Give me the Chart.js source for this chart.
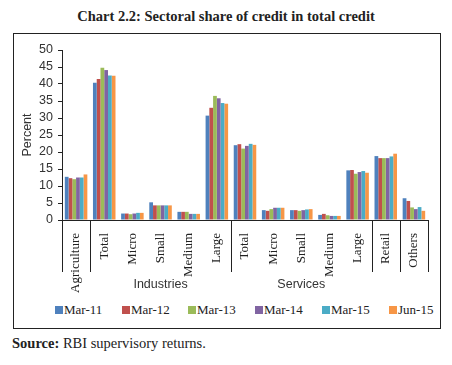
<!DOCTYPE html>
<html>
<head>
<meta charset="utf-8">
<script src="https://cdn.jsdelivr.net/npm/chart.js@4"></script>
<style>
  body { margin: 0; background: #fff; width: 452px; height: 365px; position: relative; overflow: hidden; }
  #title { position: absolute; left: 0; top: 8px; width: 452px; text-align: center;
    font: bold 14.5px "Liberation Serif", serif; color: #222; }
  #box { position: absolute; left: 13px; top: 33px; width: 426px; height: 294px; border: 1px solid #222; }
  #wrap { position: absolute; left: 0; top: 0; width: 426px; height: 262px; }
  #legend { position: absolute; left: 0; top: 268px; width: 426px; height: 18px;
    font: 13px "Liberation Serif", serif; color: #222; }
  #legend span { position: absolute; top: 0; white-space: nowrap; }
  #legend i { display: inline-block; width: 8px; height: 8px; margin-right: 1px; vertical-align: 0px; }
  #source { position: absolute; left: 12px; top: 335px; font: 14.5px "Liberation Serif", serif; color: #222; }
</style>
</head>
<body>
<div id="title">Chart 2.2: Sectoral share of credit in total credit</div>
<div id="box">
  <div id="wrap"><canvas id="myChart"></canvas></div>
  <div id="legend"></div>
</div>
<div id="source"><b>Source:</b> RBI supervisory returns.</div>
<script>
const categories = ['Agriculture', 'Total', 'Micro', 'Small', 'Medium', 'Large',
  'Total', 'Micro', 'Small', 'Medium', 'Large', 'Retail', 'Others'];
const groups = [
  { label: 'Industries', from: 1, to: 5 },
  { label: 'Services', from: 6, to: 10 }
];
const separators = [0, 1, 6, 11, 12, 13]; // category boundaries

const seriesNames = ['Mar-11', 'Mar-12', 'Mar-13', 'Mar-14', 'Mar-15', 'Jun-15'];
const colors = ['#4F81BD', '#C0504D', '#9BBB59', '#8064A2', '#4BACC6', '#F79646'];

const mar11 = [12.7, 40.4, 1.9, 5.2, 2.4, 30.7, 22.0, 2.9, 2.9, 1.5, 14.6, 18.8, 6.4];
const mar12 = [12.3, 41.5, 1.9, 4.3, 2.4, 33.0, 22.3, 2.7, 2.9, 1.8, 14.7, 18.2, 5.6];
const mar13 = [12.0, 44.8, 1.7, 4.3, 2.4, 36.5, 21.0, 3.2, 2.7, 1.4, 13.6, 18.2, 3.7];
const mar14 = [12.5, 44.1, 1.9, 4.3, 1.8, 35.8, 21.8, 3.6, 2.9, 1.2, 14.1, 18.2, 3.2];
const mar15 = [12.5, 42.5, 2.1, 4.3, 1.8, 34.4, 22.4, 3.6, 3.1, 1.2, 14.4, 18.7, 3.8];
const jun15 = [13.4, 42.4, 2.1, 4.3, 1.8, 34.2, 22.1, 3.6, 3.2, 1.2, 13.9, 19.5, 2.7];
const values = [mar11, mar12, mar13, mar14, mar15, jun15];

const yMax = 50;
const yStep = 5;

// separators below the x axis and the group names
const groupAxis = {
  id: 'groupAxis',
  afterDraw(chart) {
    const ctx = chart.ctx;
    const x = chart.scales.x;
    const half = (x.getPixelForValue(1) - x.getPixelForValue(0)) / 2;
    const y0 = chart.chartArea.bottom;
    ctx.save();
    ctx.strokeStyle = '#222';
    ctx.lineWidth = 1;
    separators.forEach(i => {
      const px = Math.round(x.getPixelForValue(i) - half) + 0.5;
      ctx.beginPath();
      ctx.moveTo(px, y0);
      ctx.lineTo(px, y0 + 52);
      ctx.stroke();
    });
    ctx.fillStyle = '#333';
    ctx.font = '12.5px "Liberation Sans", sans-serif';
    ctx.textAlign = 'center';
    ctx.textBaseline = 'middle';
    groups.forEach(g => {
      const cx = (x.getPixelForValue(g.from) + x.getPixelForValue(g.to)) / 2;
      ctx.fillText(g.label, cx, y0 + 65);
    });
    ctx.restore();
  }
};

const ctx = document.getElementById('myChart').getContext('2d');
const chart = new Chart(ctx, {
  type: 'bar',
  data: {
    labels: categories,
    datasets: seriesNames.map((name, i) => ({
      label: name,
      data: values[i],
      backgroundColor: colors[i],
      borderWidth: 0,
      categoryPercentage: 0.8,
      barPercentage: 1.0
    }))
  },
  options: {
    maintainAspectRatio: false,
    responsive: true,
    animation: false,
    layout: { padding: { top: 16, right: 12, left: 0, bottom: 0 } },
    plugins: {
      legend: { display: false },
      tooltip: { enabled: false }
    },
    scales: {
      x: {
        afterFit: (s) => { s.height = 76; },
        grid: { display: false },
        border: { display: true, color: '#222', width: 1 },
        ticks: {
          autoSkip: false,
          minRotation: 90,
          maxRotation: 90,
          padding: 5,
          color: '#222',
          font: { family: '"Liberation Serif", serif', size: 13 }
        }
      },
      y: {
        min: 0,
        max: yMax,
        afterFit: (s) => { s.width = 48; },
        title: {
          display: true,
          text: 'Percent',
          color: '#333',
          padding: { top: 6, bottom: 0 },
          font: { family: '"Liberation Sans", sans-serif', size: 12.5 }
        },
        grid: { drawOnChartArea: false, drawTicks: true, tickLength: 4, color: '#222' },
        border: { display: true, color: '#222', width: 1 },
        ticks: {
          stepSize: yStep,
          autoSkip: false,
          padding: 5,
          color: '#333',
          font: { family: '"Liberation Sans", sans-serif', size: 12.5 }
        }
      }
    }
  },
  plugins: [groupAxis]
});

// legend built from the datasets
const legend = document.getElementById('legend');
const legendX = [41, 108, 174, 241, 308, 375];
chart.data.datasets.forEach((ds, i) => {
  const item = document.createElement('span');
  item.style.left = legendX[i] + 'px';
  item.innerHTML = '<i style="background:' + ds.backgroundColor + '"></i>' + ds.label;
  legend.appendChild(item);
});
</script>
</body>
</html>
